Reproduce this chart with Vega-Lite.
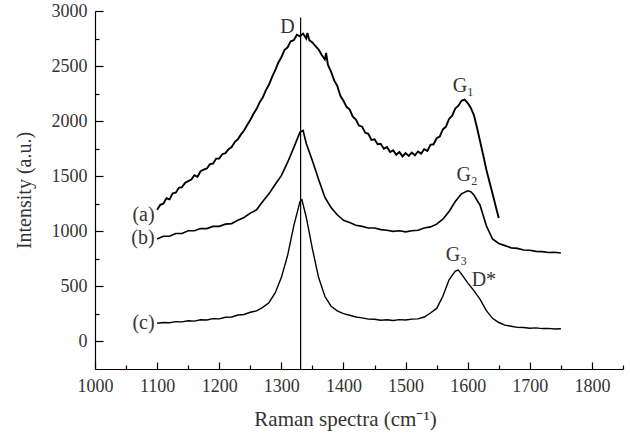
{
  "$schema": "https://vega.github.io/schema/vega-lite/v6.json",
  "width": 528,
  "height": 358,
  "autosize": {"type": "none"},
  "padding": {"left": 95, "top": 11, "right": 7, "bottom": 64},
  "background": "white",
  "config": {"view": {"stroke": null}, "font": "Liberation Serif"},
  "resolve": {"axis": {"x": "independent", "y": "independent"}},
  "datasets": {
    "spectra": [
      {"s":"a","x":1100,"y":1195},{"s":"a","x":1105,"y":1240},{"s":"a","x":1110,"y":1250},{"s":"a","x":1115,"y":1300},{"s":"a","x":1120,"y":1290},{"s":"a","x":1125,"y":1345},{"s":"a","x":1130,"y":1350},{"s":"a","x":1135,"y":1395},{"s":"a","x":1140,"y":1400},{"s":"a","x":1145,"y":1440},{"s":"a","x":1150,"y":1455},{"s":"a","x":1155,"y":1470},{"s":"a","x":1160,"y":1510},{"s":"a","x":1165,"y":1495},{"s":"a","x":1170,"y":1545},{"s":"a","x":1175,"y":1560},{"s":"a","x":1180,"y":1570},{"s":"a","x":1185,"y":1610},{"s":"a","x":1190,"y":1615},{"s":"a","x":1195,"y":1660},{"s":"a","x":1200,"y":1660},{"s":"a","x":1205,"y":1700},{"s":"a","x":1210,"y":1710},{"s":"a","x":1215,"y":1745},{"s":"a","x":1220,"y":1765},{"s":"a","x":1225,"y":1810},{"s":"a","x":1230,"y":1835},{"s":"a","x":1235,"y":1880},{"s":"a","x":1240,"y":1915},{"s":"a","x":1245,"y":1965},{"s":"a","x":1250,"y":2010},{"s":"a","x":1255,"y":2065},{"s":"a","x":1260,"y":2110},{"s":"a","x":1265,"y":2170},{"s":"a","x":1270,"y":2215},{"s":"a","x":1275,"y":2280},{"s":"a","x":1280,"y":2330},{"s":"a","x":1285,"y":2400},{"s":"a","x":1290,"y":2460},{"s":"a","x":1295,"y":2530},{"s":"a","x":1300,"y":2580},{"s":"a","x":1305,"y":2645},{"s":"a","x":1310,"y":2670},{"s":"a","x":1315,"y":2725},{"s":"a","x":1320,"y":2735},{"s":"a","x":1325,"y":2785},{"s":"a","x":1330,"y":2770},{"s":"a","x":1335,"y":2795},{"s":"a","x":1340,"y":2750},{"s":"a","x":1342,"y":2800},{"s":"a","x":1345,"y":2735},{"s":"a","x":1350,"y":2715},{"s":"a","x":1355,"y":2680},{"s":"a","x":1360,"y":2650},{"s":"a","x":1365,"y":2600},{"s":"a","x":1370,"y":2560},{"s":"a","x":1372,"y":2620},{"s":"a","x":1375,"y":2510},{"s":"a","x":1380,"y":2450},{"s":"a","x":1385,"y":2370},{"s":"a","x":1390,"y":2320},{"s":"a","x":1395,"y":2230},{"s":"a","x":1400,"y":2185},{"s":"a","x":1405,"y":2130},{"s":"a","x":1410,"y":2105},{"s":"a","x":1415,"y":2040},{"s":"a","x":1420,"y":2015},{"s":"a","x":1425,"y":1960},{"s":"a","x":1430,"y":1950},{"s":"a","x":1435,"y":1895},{"s":"a","x":1440,"y":1885},{"s":"a","x":1445,"y":1830},{"s":"a","x":1450,"y":1835},{"s":"a","x":1455,"y":1790},{"s":"a","x":1460,"y":1795},{"s":"a","x":1465,"y":1750},{"s":"a","x":1470,"y":1765},{"s":"a","x":1475,"y":1720},{"s":"a","x":1480,"y":1735},{"s":"a","x":1485,"y":1695},{"s":"a","x":1490,"y":1720},{"s":"a","x":1495,"y":1680},{"s":"a","x":1500,"y":1710},{"s":"a","x":1505,"y":1685},{"s":"a","x":1510,"y":1715},{"s":"a","x":1515,"y":1690},{"s":"a","x":1520,"y":1725},{"s":"a","x":1525,"y":1705},{"s":"a","x":1530,"y":1745},{"s":"a","x":1535,"y":1730},{"s":"a","x":1540,"y":1785},{"s":"a","x":1545,"y":1790},{"s":"a","x":1550,"y":1845},{"s":"a","x":1555,"y":1860},{"s":"a","x":1560,"y":1925},{"s":"a","x":1565,"y":1950},{"s":"a","x":1570,"y":2020},{"s":"a","x":1575,"y":2050},{"s":"a","x":1580,"y":2115},{"s":"a","x":1585,"y":2140},{"s":"a","x":1590,"y":2185},{"s":"a","x":1595,"y":2195},{"s":"a","x":1600,"y":2165},{"s":"a","x":1605,"y":2120},{"s":"a","x":1610,"y":2055},{"s":"a","x":1615,"y":1940},{"s":"a","x":1620,"y":1815},{"s":"a","x":1625,"y":1690},{"s":"a","x":1630,"y":1560},{"s":"a","x":1635,"y":1450},{"s":"a","x":1640,"y":1340},{"s":"a","x":1645,"y":1230},{"s":"a","x":1650,"y":1120},
      {"s":"b","x":1100,"y":930},{"s":"b","x":1110,"y":955},{"s":"b","x":1120,"y":955},{"s":"b","x":1130,"y":980},{"s":"b","x":1140,"y":980},{"s":"b","x":1150,"y":1005},{"s":"b","x":1160,"y":1005},{"s":"b","x":1170,"y":1025},{"s":"b","x":1180,"y":1025},{"s":"b","x":1190,"y":1045},{"s":"b","x":1200,"y":1045},{"s":"b","x":1210,"y":1065},{"s":"b","x":1220,"y":1070},{"s":"b","x":1230,"y":1100},{"s":"b","x":1240,"y":1125},{"s":"b","x":1250,"y":1165},{"s":"b","x":1260,"y":1195},{"s":"b","x":1270,"y":1270},{"s":"b","x":1280,"y":1340},{"s":"b","x":1290,"y":1425},{"s":"b","x":1300,"y":1505},{"s":"b","x":1310,"y":1625},{"s":"b","x":1320,"y":1760},{"s":"b","x":1330,"y":1900},{"s":"b","x":1335,"y":1915},{"s":"b","x":1340,"y":1800},{"s":"b","x":1350,"y":1640},{"s":"b","x":1360,"y":1470},{"s":"b","x":1370,"y":1310},{"s":"b","x":1380,"y":1215},{"s":"b","x":1390,"y":1150},{"s":"b","x":1400,"y":1100},{"s":"b","x":1410,"y":1080},{"s":"b","x":1420,"y":1055},{"s":"b","x":1430,"y":1045},{"s":"b","x":1440,"y":1030},{"s":"b","x":1450,"y":1030},{"s":"b","x":1460,"y":1015},{"s":"b","x":1470,"y":1010},{"s":"b","x":1480,"y":1000},{"s":"b","x":1490,"y":1005},{"s":"b","x":1500,"y":995},{"s":"b","x":1510,"y":1005},{"s":"b","x":1520,"y":1010},{"s":"b","x":1530,"y":1030},{"s":"b","x":1540,"y":1040},{"s":"b","x":1550,"y":1065},{"s":"b","x":1560,"y":1110},{"s":"b","x":1570,"y":1180},{"s":"b","x":1580,"y":1270},{"s":"b","x":1590,"y":1340},{"s":"b","x":1600,"y":1368},{"s":"b","x":1605,"y":1360},{"s":"b","x":1610,"y":1330},{"s":"b","x":1620,"y":1235},{"s":"b","x":1630,"y":1050},{"s":"b","x":1640,"y":930},{"s":"b","x":1650,"y":890},{"s":"b","x":1660,"y":870},{"s":"b","x":1670,"y":850},{"s":"b","x":1680,"y":845},{"s":"b","x":1690,"y":830},{"s":"b","x":1700,"y":828},{"s":"b","x":1710,"y":818},{"s":"b","x":1720,"y":815},{"s":"b","x":1730,"y":808},{"s":"b","x":1740,"y":810},{"s":"b","x":1750,"y":803},
      {"s":"c","x":1100,"y":165},{"s":"c","x":1110,"y":172},{"s":"c","x":1120,"y":170},{"s":"c","x":1130,"y":180},{"s":"c","x":1140,"y":178},{"s":"c","x":1150,"y":188},{"s":"c","x":1160,"y":185},{"s":"c","x":1170,"y":197},{"s":"c","x":1180,"y":195},{"s":"c","x":1190,"y":207},{"s":"c","x":1200,"y":205},{"s":"c","x":1210,"y":220},{"s":"c","x":1220,"y":222},{"s":"c","x":1230,"y":240},{"s":"c","x":1240,"y":245},{"s":"c","x":1250,"y":265},{"s":"c","x":1260,"y":278},{"s":"c","x":1270,"y":310},{"s":"c","x":1280,"y":352},{"s":"c","x":1290,"y":440},{"s":"c","x":1300,"y":580},{"s":"c","x":1310,"y":780},{"s":"c","x":1320,"y":1050},{"s":"c","x":1330,"y":1270},{"s":"c","x":1333,"y":1288},{"s":"c","x":1340,"y":1130},{"s":"c","x":1350,"y":840},{"s":"c","x":1360,"y":580},{"s":"c","x":1370,"y":410},{"s":"c","x":1380,"y":320},{"s":"c","x":1390,"y":278},{"s":"c","x":1400,"y":252},{"s":"c","x":1410,"y":238},{"s":"c","x":1420,"y":222},{"s":"c","x":1430,"y":214},{"s":"c","x":1440,"y":203},{"s":"c","x":1450,"y":202},{"s":"c","x":1460,"y":193},{"s":"c","x":1470,"y":197},{"s":"c","x":1480,"y":190},{"s":"c","x":1490,"y":198},{"s":"c","x":1500,"y":195},{"s":"c","x":1510,"y":203},{"s":"c","x":1520,"y":205},{"s":"c","x":1530,"y":222},{"s":"c","x":1540,"y":258},{"s":"c","x":1550,"y":300},{"s":"c","x":1560,"y":410},{"s":"c","x":1570,"y":560},{"s":"c","x":1580,"y":638},{"s":"c","x":1585,"y":648},{"s":"c","x":1590,"y":612},{"s":"c","x":1600,"y":532},{"s":"c","x":1610,"y":462},{"s":"c","x":1620,"y":382},{"s":"c","x":1630,"y":280},{"s":"c","x":1640,"y":210},{"s":"c","x":1650,"y":172},{"s":"c","x":1660,"y":148},{"s":"c","x":1670,"y":138},{"s":"c","x":1680,"y":128},{"s":"c","x":1690,"y":127},{"s":"c","x":1700,"y":120},{"s":"c","x":1710,"y":123},{"s":"c","x":1720,"y":117},{"s":"c","x":1730,"y":119},{"s":"c","x":1740,"y":113},{"s":"c","x":1750,"y":115}
    ],
    "peaks": [
      {"t":"D","x":1310,"y":2796},
      {"t":"G₁","x":1593,"y":2262},
      {"t":"G₂","x":1599,"y":1456},
      {"t":"G₃","x":1582,"y":728},
      {"t":"D*","x":1626,"y":499}
    ],
    "series": [
      {"t":"(a)","x":1096,"y":1094},
      {"t":"(b)","x":1096,"y":881},
      {"t":"(c)","x":1096,"y":110}
    ]
  },
  "layer": [
    {
      "data": {"name": "spectra"},
      "mark": {"type": "line", "color": "black"},
      "encoding": {
        "x": {
          "field": "x", "type": "quantitative",
          "scale": {"domain": [1000, 1850], "nice": false, "zero": false},
          "axis": {
            "orient": "bottom",
            "title": "Raman spectra (cm⁻¹)",
            "values": [1000,1100,1200,1300,1400,1500,1600,1700,1800],
            "format": "d",
            "ticks": false,
            "labelPadding": 8,
            "labelOverlap": false,
            "labelFlush": false,
            "labelBound": false,
            "grid": false,
            "domainColor": "black",
            "domainWidth": 1.2,
            "labelFont": "Liberation Serif",
            "labelFontSize": 18,
            "labelColor": "#333333",
            "titleFont": "Liberation Serif",
            "titleFontSize": 21,
            "titleFontWeight": "normal",
            "titleColor": "#333333",
            "titleX": 250,
            "titleY": 56,
            "titleBaseline": "alphabetic",
            "titleAlign": "center"
          }
        },
        "y": {
          "field": "y", "type": "quantitative",
          "scale": {"domain": [-250, 3000], "nice": false, "zero": false},
          "axis": {
            "orient": "left",
            "title": "Intensity (a.u.)",
            "values": [0,500,1000,1500,2000,2500,3000],
            "format": "d",
            "ticks": false,
            "labelPadding": 8,
            "labelOverlap": false,
            "labelFlush": false,
            "labelBound": false,
            "grid": false,
            "domainColor": "black",
            "domainWidth": 1.2,
            "labelFont": "Liberation Serif",
            "labelFontSize": 18,
            "labelColor": "#333333",
            "titleFont": "Liberation Serif",
            "titleFontSize": 20,
            "titleFontWeight": "normal",
            "titleColor": "#333333",
            "titleX": -61
          }
        },
        "detail": {"field": "s", "type": "nominal"},
        "strokeWidth": {"field": "s", "type": "nominal", "scale": {"domain": ["a", "b", "c"], "range": [1.9, 1.4, 1.3]}, "legend": null}
      }
    },
    {
      "data": {"values": [{"x": 1331, "y0": -250, "y1": 2940}]},
      "mark": {"type": "rule", "color": "black", "strokeWidth": 1.2},
      "encoding": {
        "x": {
          "field": "x", "type": "quantitative",
          "axis": {
            "orient": "bottom",
            "title": null,
            "values": [1000,1100,1200,1300,1400,1500,1600,1700,1800],
            "labels": false,
            "domain": false,
            "grid": false,
            "offset": -7,
            "tickSize": 7,
            "tickColor": "black",
            "tickWidth": 1.2
          }
        },
        "y": {
          "field": "y0", "type": "quantitative",
          "axis": {
            "orient": "left",
            "title": null,
            "values": [0,500,1000,1500,2000,2500,3000],
            "labels": false,
            "domain": false,
            "grid": false,
            "offset": -8,
            "tickSize": 8,
            "tickColor": "black",
            "tickWidth": 1.2
          }
        },
        "y2": {"field": "y1"}
      }
    },
    {
      "data": {"name": "peaks"},
      "mark": {"type": "text", "font": "Liberation Serif", "fontSize": 20, "color": "#333333", "align": "center", "baseline": "alphabetic"},
      "encoding": {
        "x": {
          "field": "x", "type": "quantitative",
          "axis": {
            "orient": "bottom",
            "title": null,
            "values": [1050,1150,1250,1350,1450,1550,1650,1750,1850],
            "labels": false,
            "domain": false,
            "grid": false,
            "offset": -4,
            "tickSize": 4,
            "tickColor": "black",
            "tickWidth": 1.2
          }
        },
        "y": {
          "field": "y", "type": "quantitative",
          "axis": {
            "orient": "left",
            "title": null,
            "values": [250,750,1250,1750,2250,2750],
            "labels": false,
            "domain": false,
            "grid": false,
            "offset": -4,
            "tickSize": 4,
            "tickColor": "black",
            "tickWidth": 1.2
          }
        },
        "text": {"field": "t"}
      }
    },
    {
      "data": {"name": "series"},
      "mark": {"type": "text", "font": "Liberation Serif", "fontSize": 20, "color": "#333333", "align": "right", "baseline": "alphabetic"},
      "encoding": {
        "x": {"field": "x", "type": "quantitative", "axis": null},
        "y": {"field": "y", "type": "quantitative", "axis": null},
        "text": {"field": "t"}
      }
    }
  ]
}
